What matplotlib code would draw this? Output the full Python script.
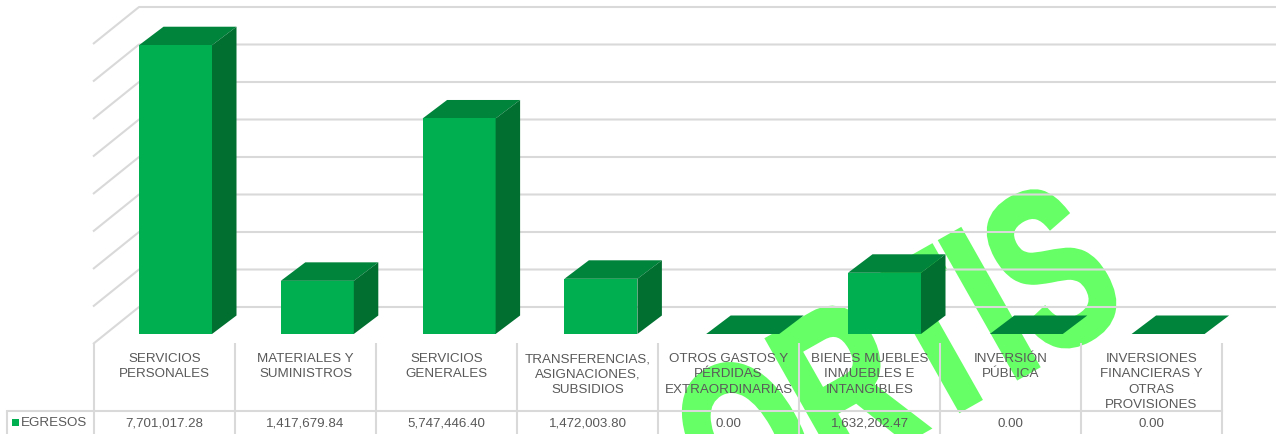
#!/usr/bin/env python3
"""Egresos por capitulo, 3D-looking column chart with a data table below."""

import matplotlib

matplotlib.use("Agg")

import matplotlib.pyplot as plt
from matplotlib.patheffects import AbstractPathEffect
from matplotlib.transforms import Affine2D

categories = [
    "SERVICIOS\nPERSONALES",
    "MATERIALES Y\nSUMINISTROS",
    "SERVICIOS\nGENERALES",
    "TRANSFERENCIAS,\nASIGNACIONES,\nSUBSIDIOS",
    "OTROS GASTOS Y\nPÉRDIDAS\nEXTRAORDINARIAS",
    "BIENES MUEBLES\nINMUEBLES E\nINTANGIBLES",
    "INVERSIÓN\nPÚBLICA",
    "INVERSIONES\nFINANCIERAS Y\nOTRAS\nPROVISIONES",
]
egresos = [7701017.28, 1417679.84, 5747446.40, 1472003.80, 0.00, 1632202.47, 0.00, 0.00]
grid_values = [0, 1e6, 2e6, 3e6, 4e6, 5e6, 6e6, 7e6, 8e6]

W, H = 1276, 434
CAT_PX = 141.8
TABLE_PX = 141.0
UNIT_PX = 37.5 / 1e6
X0_PX, Y0_PX = 93.0, 334.0

GRID = "#d9d9d9"
TEXT = "#595959"
FRONT = "#00b050"
TOP = "#00843b"
SIDE = "#006f30"
MARK = "#66ff66"

plt.rcParams["font.family"] = ["Liberation Sans", "DejaVu Sans"]


class SqueezeX(AbstractPathEffect):
    """Narrow the glyphs along the baseline and fatten them, the watermark is a stretched word."""

    def __init__(self, factor, stroke_pt):
        super().__init__()
        self.factor = factor
        self.stroke_pt = stroke_pt

    def draw_path(self, renderer, gc, tpath, affine, rgbFace=None):
        gc0 = renderer.new_gc()
        gc0.copy_properties(gc)
        gc0.set_linewidth(self.stroke_pt)
        gc0.set_foreground(rgbFace)
        gc0.set_joinstyle("miter")
        renderer.draw_path(gc0, tpath, Affine2D().scale(self.factor, 1) + affine, rgbFace)
        gc0.restore()


def xp(px):
    return (px - X0_PX) / CAT_PX


def yp(px):
    return (Y0_PX - px) / UNIT_PX


fig = plt.figure(figsize=(W / 100, H / 100), dpi=100)
ax = fig.add_axes([0, 0, 1, 1])
ax.set_xlim(xp(0), xp(W))
ax.set_ylim(yp(H), yp(0))
ax.axis("off")

# watermark sits behind everything else
ax.text(xp(735), yp(537), "ORTIS", color=MARK, fontsize=163, fontweight="bold",
        rotation=29.5, rotation_mode="anchor", ha="left", va="baseline", zorder=0.5,
        clip_on=True, path_effects=[SqueezeX(0.66, 4)])

# back wall
depth_x, depth_y = 46 / CAT_PX, 37 / UNIT_PX
floor = yp(344)
for v in grid_values:
    ax.plot([0, depth_x, xp(W)], [floor + v, floor + depth_y + v, floor + depth_y + v],
            color=GRID, lw=1.5, zorder=1, solid_capstyle="butt")

# columns
bar_w = 73 / CAT_PX
off_x, off_y = 24.5 / CAT_PX, 18.5 / UNIT_PX
for i, v in enumerate(egresos):
    left = i + depth_x
    right = left + bar_w
    ax.fill([left, right, right + off_x, left + off_x], [v, v, v + off_y, v + off_y], color=TOP, lw=0, zorder=3)
    if v > 0:
        ax.fill([left, right, right, left], [0, 0, v, v], color=FRONT, lw=0, zorder=3)
        ax.fill([right, right + off_x, right + off_x, right], [0, off_y, v + off_y, v],
                color=SIDE, lw=0, zorder=3)

# table
table_x = [xp(94 + TABLE_PX * i) for i in range(len(categories) + 1)]
for x in table_x:
    ax.plot([x, x], [yp(343), yp(H)], color=GRID, lw=1.5, zorder=2, solid_capstyle="butt")
ax.plot([xp(7), xp(7)], [yp(411), yp(H)], color=GRID, lw=1.5, zorder=2, solid_capstyle="butt")
ax.plot([xp(7), table_x[-1]], [yp(411), yp(411)], color=GRID, lw=1.5, zorder=2)

for i, (name, v) in enumerate(zip(categories, egresos)):
    cx = (table_x[i] + table_x[i + 1]) / 2
    ax.text(cx, yp(353), name, ha="center", va="top", fontsize=9.6, color=TEXT, linespacing=1.38, zorder=4)
    ax.text(cx, yp(424), f"{v:,.2f}", ha="center", va="center", fontsize=9.6, color=TEXT, zorder=4)

ax.fill([xp(12), xp(19), xp(19), xp(12)], [yp(426), yp(426), yp(419), yp(419)], color=FRONT, lw=0, zorder=4)
ax.text(xp(21), yp(423), "EGRESOS", ha="left", va="center", fontsize=9.6, color=TEXT, zorder=4)

fig.savefig("out.png", dpi=100)
plt.close(fig)
